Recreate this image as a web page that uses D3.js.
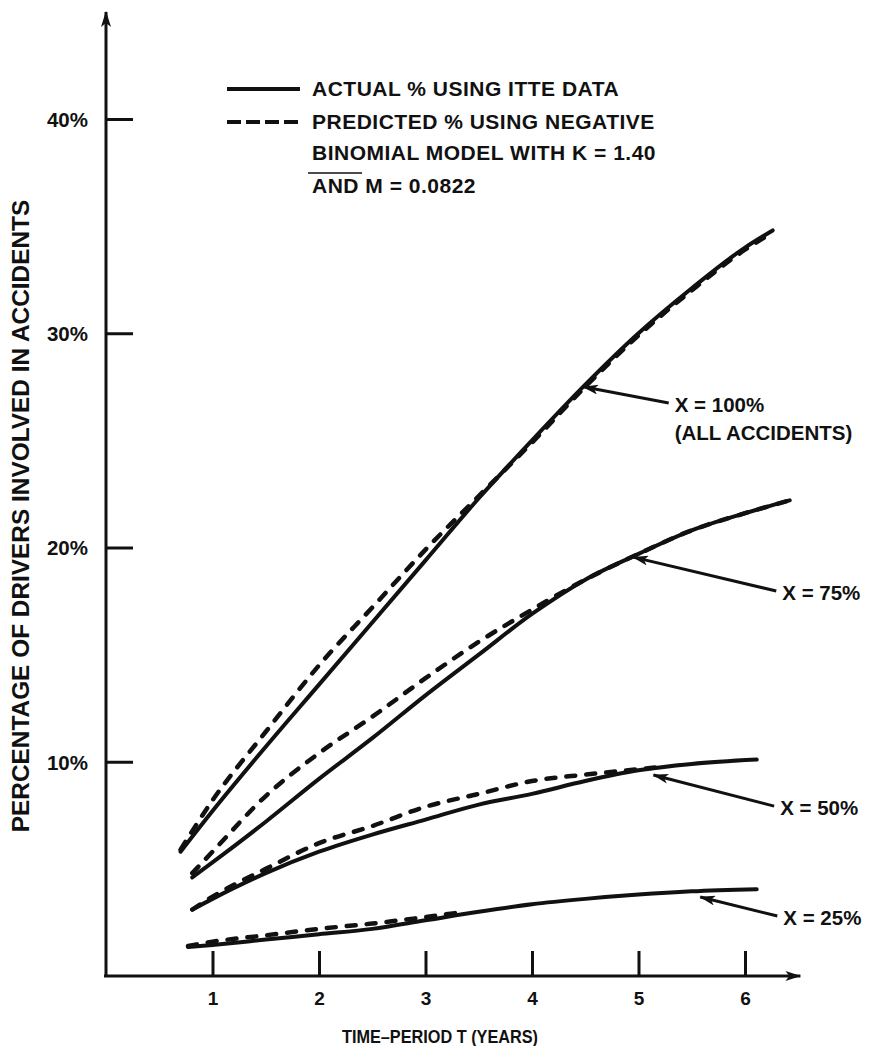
<!DOCTYPE html>
<html><head><meta charset="utf-8">
<script src="https://cdn.jsdelivr.net/npm/d3@7"></script>
<style>
body{margin:0;background:#fff}
svg{display:block}
text{font-family:"Liberation Sans",Arial,Helvetica,sans-serif;font-weight:bold;fill:#111}
</style>
</head><body>
<svg id="chart" width="869" height="1046"></svg>
<script>
// ---------- data ----------
const xTickValues = [1, 2, 3, 4, 5, 6];
const yTickValues = [10, 20, 30, 40];
const yTickLabels = ["10%", "20%", "30%", "40%"];
const xTitle = "TIME\u2013PERIOD T (YEARS)";
const yTitle = "PERCENTAGE OF DRIVERS INVOLVED IN ACCIDENTS";
const legendSolidLabel = ["ACTUAL % USING ITTE DATA"];
const legendDashedLabel = ["PREDICTED % USING NEGATIVE", "BINOMIAL MODEL WITH K = 1.40", "AND M = 0.0822"];

// X = 100% (all accidents)
const actual100T = [0.70, 1, 1.5, 2, 2.5, 3, 3.5, 4, 4.5, 5, 5.5, 6, 6.26];
const actual100V = [5.8, 7.7, 10.7, 13.6, 16.5, 19.4, 22.3, 25.0, 27.6, 30.0, 32.1, 34.0, 34.8];
const pred100T   = [0.70, 1, 1.5, 2, 2.5, 3, 3.5, 4, 4.5, 5, 5.5, 6, 6.26];
const pred100V   = [5.9, 8.2, 11.4, 14.5, 17.2, 19.9, 22.4, 24.9, 27.5, 29.9, 32.0, 33.9, 34.7];
// X = 75%
const actual75T = [0.81, 1, 1.5, 2, 2.5, 3, 3.5, 4, 4.5, 5, 5.5, 6, 6.42];
const actual75V = [4.6, 5.3, 7.2, 9.2, 11.1, 13.1, 15.0, 16.9, 18.5, 19.7, 20.8, 21.6, 22.2];
const pred75T   = [0.81, 1, 1.5, 2, 2.5, 3, 3.5, 4, 4.5, 5, 5.5, 6, 6.42];
const pred75V   = [4.8, 5.8, 8.4, 10.4, 12.1, 13.9, 15.6, 17.1, 18.5, 19.7, 20.8, 21.6, 22.2];
// X = 50%
const actual50T = [0.81, 1, 1.5, 2, 2.5, 3, 3.5, 4, 4.5, 5, 5.5, 6.11];
const actual50V = [3.1, 3.6, 4.8, 5.8, 6.6, 7.3, 8.0, 8.5, 9.1, 9.6, 9.9, 10.1];
const pred50T   = [0.81, 1, 1.5, 2, 2.5, 3, 3.5, 4, 4.5, 5, 5.2];
const pred50V   = [3.1, 3.7, 5.0, 6.2, 7.0, 7.9, 8.5, 9.1, 9.4, 9.65, 9.75];
// X = 25%
const actual25T = [0.77, 1, 1.5, 2, 2.5, 3, 3.5, 4, 4.5, 5, 5.5, 6.11];
const actual25V = [1.35, 1.45, 1.7, 1.95, 2.2, 2.6, 3.0, 3.35, 3.6, 3.8, 3.95, 4.05];
const pred25T   = [0.77, 1, 1.5, 2, 2.5, 3, 3.3];
const pred25V   = [1.4, 1.6, 1.9, 2.2, 2.45, 2.75, 2.95];

// annotations: label lines, label anchor (t, v at baseline), arrow tip (t, v)
const annLabels = [["X = 100%", "(ALL ACCIDENTS)"], ["X = 75%"], ["X = 50%"], ["X = 25%"]];
const annLabelT = [5.34, 6.35, 6.33, 6.36];
const annLabelV = [26.32, 17.55, 7.51, 2.38];
const annTipT   = [4.48, 4.95, 5.14, 5.58];
const annTipV   = [27.5, 19.55, 9.38, 3.69];

// ---------- drawing ----------
const svg = d3.select("#chart");
const x = d3.scaleLinear().domain([0, 6]).range([106, 745]);
const y = d3.scaleLinear().domain([0, 40]).range([976, 119]);
const xEnd = 6.52, yEnd = 45;

const defs = svg.append("defs");
defs.append("marker").attr("id", "ah").attr("viewBox", "0 0 16 10")
  .attr("refX", 15).attr("refY", 5).attr("markerWidth", 16).attr("markerHeight", 10)
  .attr("markerUnits", "userSpaceOnUse").attr("orient", "auto")
  .append("path").attr("d", "M0,0 L16,5 L0,10 L4,5 Z").attr("fill", "#111");
defs.append("marker").attr("id", "axh").attr("viewBox", "0 0 16 10")
  .attr("refX", 15).attr("refY", 5).attr("markerWidth", 16).attr("markerHeight", 10)
  .attr("markerUnits", "userSpaceOnUse").attr("orient", "auto")
  .append("path").attr("d", "M0,0 L16,5 L0,10 L4,5 Z").attr("fill", "#111");

// axis lines with arrows
svg.append("line").attr("x1", x(0)).attr("y1", y(0)).attr("x2", x(0)).attr("y2", y(yEnd))
  .attr("stroke", "#111").attr("stroke-width", 3).attr("marker-end", "url(#axh)");
svg.append("line").attr("x1", x(0) - 2).attr("y1", y(0)).attr("x2", x(xEnd)).attr("y2", y(0))
  .attr("stroke", "#111").attr("stroke-width", 3).attr("marker-end", "url(#axh)");

// y axis ticks
const yAxis = d3.axisLeft(y).tickValues(yTickValues)
  .tickFormat((d, i) => yTickLabels[i]).tickSizeInner(-27).tickSizeOuter(0).tickPadding(18);
const gy = svg.append("g").attr("transform", `translate(${x(0)},0)`).call(yAxis);
gy.select(".domain").remove();
gy.selectAll(".tick line").attr("stroke", "#111").attr("stroke-width", 3);
gy.selectAll(".tick text").attr("font-size", 20.5).attr("font-family", null).attr("dy", "0.36em");
gy.attr("font-family", null).attr("font-size", null);

// x axis ticks
const xAxis = d3.axisBottom(x).tickValues(xTickValues).tickFormat(d3.format("d"))
  .tickSizeInner(-25).tickSizeOuter(0).tickPadding(16);
const gx = svg.append("g").attr("transform", `translate(0,${y(0)})`).call(xAxis);
gx.select(".domain").remove();
gx.selectAll(".tick line").attr("stroke", "#111").attr("stroke-width", 3);
gx.selectAll(".tick text").attr("font-size", 19).attr("font-family", null);
gx.attr("font-family", null).attr("font-size", null);

// axis titles
svg.append("text").attr("transform", "translate(440,1043) scale(0.88,1)")
  .attr("text-anchor", "middle").attr("font-size", 18.5).text(xTitle);
svg.append("text").attr("transform", `translate(29,${516}) rotate(-90)`)
  .attr("text-anchor", "middle").attr("font-size", 24.4).text(yTitle);

// curves
const line = d3.line().x(d => x(d[0])).y(d => y(d[1])).curve(d3.curveMonotoneX);
const zip = (ts, vs) => ts.map((t, i) => [t, vs[i]]);
const series = [
  {pts: zip(pred100T, pred100V), dashed: true},
  {pts: zip(pred75T, pred75V), dashed: true},
  {pts: zip(pred50T, pred50V), dashed: true},
  {pts: zip(pred25T, pred25V), dashed: true},
  {pts: zip(actual100T, actual100V), dashed: false},
  {pts: zip(actual75T, actual75V), dashed: false},
  {pts: zip(actual50T, actual50V), dashed: false},
  {pts: zip(actual25T, actual25V), dashed: false}
];
svg.append("g").selectAll("path").data(series).join("path")
  .attr("d", d => line(d.pts))
  .attr("fill", "none").attr("stroke", "#111")
  .attr("stroke-width", d => d.dashed ? 4.5 : 4)
  .attr("stroke-linecap", "round")
  .attr("stroke-dasharray", d => d.dashed ? "9,11" : null);

// annotations
annLabels.forEach((lines, i) => {
  const lx = x(annLabelT[i]), ly = y(annLabelV[i]);
  svg.append("line").attr("x1", lx - 6).attr("y1", ly - 9)
    .attr("x2", x(annTipT[i])).attr("y2", y(annTipV[i]))
    .attr("stroke", "#111").attr("stroke-width", 3).attr("marker-end", "url(#ah)");
  const t = svg.append("text").attr("x", lx).attr("y", ly).attr("font-size", 20.5);
  lines.forEach((s, j) => t.append("tspan").attr("x", lx).attr("dy", j === 0 ? 0 : 28).text(s));
});

// legend
const lg = svg.append("g");
lg.append("line").attr("x1", 227).attr("x2", 300).attr("y1", 89).attr("y2", 89)
  .attr("stroke", "#111").attr("stroke-width", 4);
lg.append("line").attr("x1", 227).attr("x2", 300).attr("y1", 122).attr("y2", 122)
  .attr("stroke", "#111").attr("stroke-width", 4).attr("stroke-dasharray", "14,5");
lg.append("text").attr("x", 312).attr("y", 96).attr("font-size", 21)
  .attr("letter-spacing", 0.5).text(legendSolidLabel[0]);
const lt = lg.append("text").attr("x", 312).attr("y", 129).attr("font-size", 21).attr("letter-spacing", 0.5);
const lineDy = [0, 31, 33];
legendDashedLabel.forEach((s, j) => lt.append("tspan").attr("x", 312).attr("dy", lineDy[j]).text(s));
lg.append("line").attr("x1", 308).attr("x2", 362).attr("y1", 173).attr("y2", 173)
  .attr("stroke", "#111").attr("stroke-width", 1.5);
</script>
</body></html>
